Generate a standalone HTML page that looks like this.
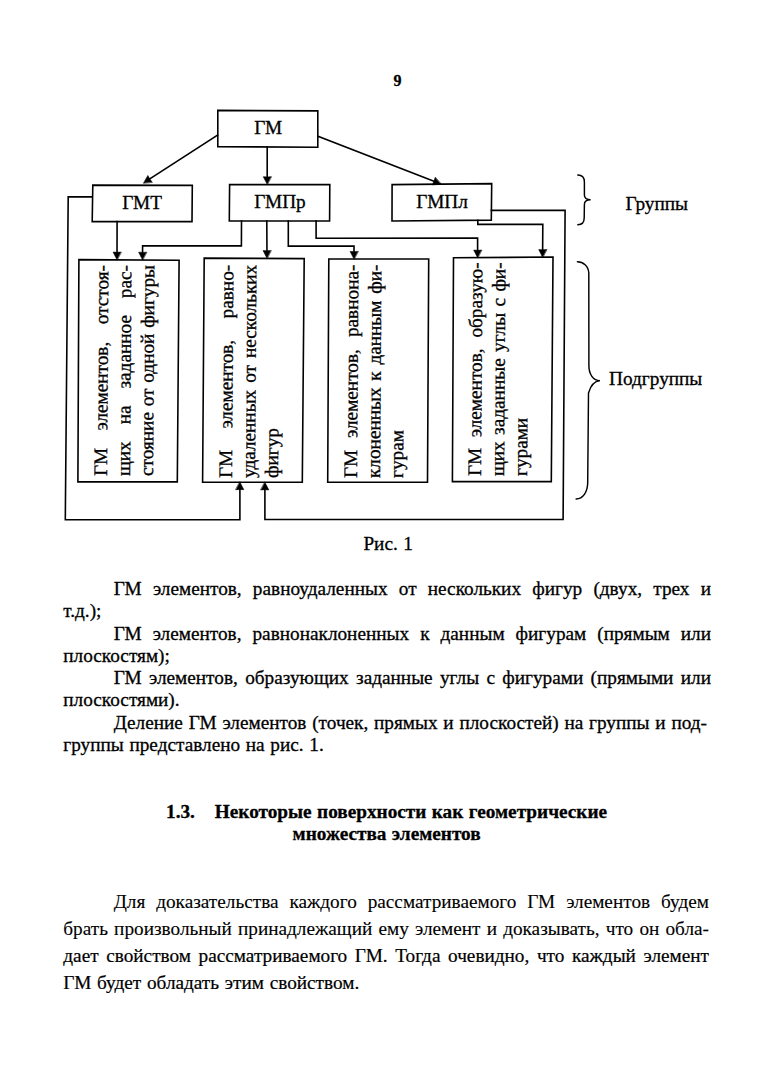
<!DOCTYPE html>
<html><head><meta charset="utf-8"><style>
html,body{margin:0;padding:0;background:#fff;}
body{width:774px;height:1080px;position:relative;overflow:hidden;font-family:"Liberation Serif",serif;font-size:19.25px;line-height:22px;color:#000;-webkit-text-stroke:0.3px #000;}
.t{position:absolute;white-space:nowrap;}
.v{position:absolute;transform-origin:0 0;transform:skewX(-0.37deg) rotate(-90deg);white-space:nowrap;line-height:22.8px;}
.j{text-align:justify;text-align-last:justify;}
.l{-webkit-text-stroke:0.12px #000;}
.m{-webkit-text-stroke:0.22px #000;}
.d{position:absolute;left:0;top:0;}
.d .h{fill:#000;stroke:#000;stroke-width:0.6;stroke-linejoin:round;}
.d .b{stroke-width:1.45;stroke-linecap:round;}
</style></head><body>
<svg class="d" width="774" height="1080" viewBox="0 0 774 1080"><g fill="none" stroke="#000" stroke-width="1.6" stroke-linejoin="miter" stroke-linecap="square"><polygon points="217.8,110.4 317.8,110.9 317.8,147.2 217.8,146.7"/><polygon points="92.8,185.1 192.3,185.4 192.0,221.6 92.2,221.6"/><polygon points="229.6,184.6 329.8,184.6 329.6,221.0 229.3,221.0"/><polygon points="392.1,184.6 491.7,183.6 491.3,220.1 392.0,221.0"/><polygon points="78.9,259.6 179.1,260.2 177.3,481.9 77.9,481.9"/><polygon points="204.2,258.1 304.2,258.6 302.3,482.3 202.6,482.1"/><polygon points="328.8,259.0 428.7,259.0 427.5,482.3 327.7,482.3"/><polygon points="453.5,257.8 553.0,257.0 551.3,481.6 452.4,481.6"/><polyline points="217.6,135.2 146.96,180.73"/><path class="h" d="M143.60,182.90 L147.87,175.50 L149.80,178.91 L152.10,182.06 Z"/><polyline points="267.2,147.0 267.2,180.3"/><path class="h" d="M267.20,184.30 L263.30,176.70 L267.20,176.93 L271.10,176.70 Z"/><polyline points="318.0,136.2 437.07,182.55"/><path class="h" d="M440.80,184.00 L432.30,184.88 L433.93,181.33 L435.13,177.61 Z"/><polyline points="117.1,221.6 117.01,255.7"/><path class="h" d="M117.00,259.70 L113.12,252.09 L117.02,252.33 L120.92,252.11 Z"/><polyline points="241.5,221.0 241.4,245.9 142.6,245.9 142.53,255.8"/><path class="h" d="M142.50,259.80 L138.65,252.17 L142.55,252.43 L146.45,252.23 Z"/><polyline points="266.8,221.0 266.98,254.2"/><path class="h" d="M267.00,258.20 L263.06,250.62 L266.96,250.83 L270.86,250.58 Z"/><polyline points="288.3,221.0 288.3,246.1 354.0,246.1 354.0,255.0"/><path class="h" d="M354.00,259.00 L350.10,251.40 L354.00,251.63 L357.90,251.40 Z"/><polyline points="316.1,221.0 316.1,238.3 477.6,238.1 477.6,253.7"/><path class="h" d="M477.60,257.70 L473.70,250.10 L477.60,250.33 L481.50,250.10 Z"/><polyline points="477.8,220.3 477.8,224.4 542.8,224.4 542.62,253.2"/><path class="h" d="M542.60,257.20 L538.75,249.58 L542.64,249.83 L546.55,249.62 Z"/><polyline points="92.2,196.9 68.2,196.9 65.3,519.7 239.9,519.7 239.9,486.1"/><path class="h" d="M239.90,482.10 L243.80,489.70 L239.90,489.47 L236.00,489.70 Z"/><polyline points="491.4,210.4 565.1,210.3 563.1,519.5 264.9,519.5 264.9,486.3"/><path class="h" d="M264.90,482.30 L268.80,489.90 L264.90,489.67 L261.00,489.90 Z"/><path class="b" d="M577.8,174.9 C582,174.9 584.4,177 584.4,182 L584.4,195 C584.4,198 586,199.7 590.6,199.7 C586,199.7 584.4,201.5 584.4,204.5 L584.2,218 C584.2,222.5 582,224.7 577.8,224.7"/><path class="b" d="M577.4,261.7 C583,261.7 588.5,266 588.8,273 L588.9,366 C589,374 593,380.6 600,380.6 C594,381 590.2,387 588.5,393 L587.7,483 C587.5,492 583,498.9 576.1,498.9"/></g></svg>
<div class="t" style="left:393.40px;top:70.30px;font-size:16px;font-weight:bold;">9</div><div class="t" style="left:254.20px;top:116.70px;">ГМ</div><div class="t" style="left:122.20px;top:191.80px;">ГМТ</div><div class="t" style="left:254.20px;top:190.70px;">ГМПр</div><div class="t" style="left:416.30px;top:191.00px;">ГМПл</div><div class="t" style="left:625.50px;top:192.90px;">Группы</div><div class="t" style="left:609.10px;top:367.70px;word-spacing:0px;">Подгруппы</div><div class="v" style="left:90.10px;top:475.80px;width:211.00px;"><div class=j>ГМ элементов, отстоя-</div><div class=j>щих на заданное рас-</div><div class=j>стояние от одной фигуры</div></div><div class="v" style="left:214.80px;top:477.50px;width:213.20px;"><div class=j>ГМ элементов, равно-</div><div class=j>удаленных от нескольких</div><div>фигур</div></div><div class="v" style="left:339.90px;top:478.20px;width:213.40px;"><div class=j>ГМ элементов, равнона-</div><div class=j>клоненных к данным фи-</div><div>гурам</div></div><div class="v" style="left:464.10px;top:476.00px;width:213.60px;"><div class=j>ГМ элементов, образую-</div><div class=j>щих заданные углы с фи-</div><div>гурами</div></div><div class="t" style="left:363.40px;top:533.00px;word-spacing:0.6000000000000001px;">Рис. 1</div><div class="t" style="left:113.70px;top:577.80px;width:597.30px;text-align:justify;text-align-last:justify;">ГМ элементов, равноудаленных от нескольких фигур (двух, трех и</div><div class="t" style="left:63.30px;top:600.20px;">т.д.);</div><div class="t" style="left:113.70px;top:622.50px;width:597.30px;text-align:justify;text-align-last:justify;">ГМ элементов, равнонаклоненных к данным фигурам (прямым или</div><div class="t" style="left:63.30px;top:644.80px;">плоскостям);</div><div class="t" style="left:113.70px;top:667.10px;width:597.30px;text-align:justify;text-align-last:justify;">ГМ элементов, образующих заданные углы с фигурами (прямыми или</div><div class="t" style="left:63.30px;top:689.40px;">плоскостями).</div><div class="t" style="left:113.70px;top:711.70px;width:593.30px;text-align:justify;text-align-last:justify;">Деление ГМ элементов (точек, прямых и плоскостей) на группы и под-</div><div class="t" style="left:63.30px;top:734.00px;word-spacing:0.9px;">группы представлено на рис. 1.</div><div class="t" style="left:166.00px;top:801.30px;font-weight:bold;">1.3.</div><div class="t" style="left:214.80px;top:801.10px;word-spacing:0.6px;font-weight:bold;">Некоторые поверхности как геометрические</div><div class="t" style="left:292.60px;top:822.90px;word-spacing:0.6px;font-weight:bold;">множества элементов</div><div class="t l" style="left:113.70px;top:890.90px;width:595.30px;text-align:justify;text-align-last:justify;">Для доказательства каждого рассматриваемого ГМ элементов будем</div><div class="t l" style="left:63.30px;top:917.70px;width:645.70px;text-align:justify;text-align-last:justify;">брать произвольный принадлежащий ему элемент и доказывать, что он обла-</div><div class="t m" style="left:63.30px;top:944.50px;width:645.70px;text-align:justify;text-align-last:justify;">дает свойством рассматриваемого ГМ. Тогда очевидно, что каждый элемент</div><div class="t m" style="left:63.30px;top:971.80px;word-spacing:0.9px;">ГМ будет обладать этим свойством.</div>
</body></html>
